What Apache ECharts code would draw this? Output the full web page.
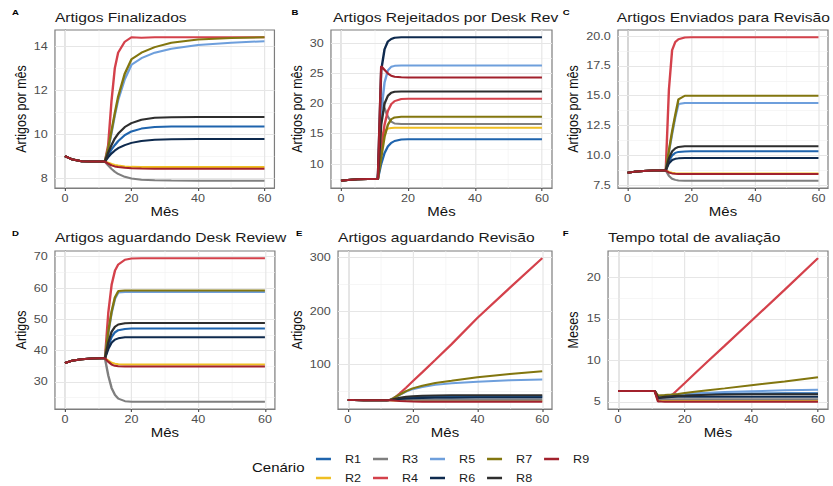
<!DOCTYPE html>
<html>
<head>
<meta charset="utf-8">
<script src="https://cdn.jsdelivr.net/npm/echarts@6/dist/echarts.min.js"></script>
<style>
html,body{margin:0;padding:0;background:#fff;overflow:hidden;}
#wrap{width:833px;height:486px;overflow:hidden;}
#chart{width:694px;height:486px;transform:scale(1.2,1);transform-origin:0 0;}
</style>
</head>
<body>
<div id="wrap"><div id="chart"></div></div>
<script>
// ---------------- DATA ----------------
const months = [0,2,5,8,11,12,13,14,15,16,18,20,23,27,32,40,50,60];
const scenarios = ['R1','R2','R3','R4','R5','R6','R7','R8','R9'];
const colors = ['#1f64ad','#efbf22','#7f7f7f','#d4414b','#6e9fdc','#0e2a4e','#82760f','#2e2e2e','#a2212c'];

const finalizados = [
  [9.0,8.86,8.77,8.75,8.75,8.75,9.05,9.3,9.5,9.68,9.95,10.12,10.25,10.32,10.35,10.35,10.35,10.35],
  [9.0,8.86,8.77,8.75,8.75,8.75,8.7,8.64,8.6,8.57,8.53,8.51,8.5,8.5,8.5,8.5,8.5,8.5],
  [9.0,8.86,8.77,8.75,8.75,8.75,8.58,8.42,8.29,8.19,8.06,7.98,7.93,7.9,7.89,7.88,7.88,7.88],
  [9.0,8.86,8.77,8.75,8.75,8.75,9.5,11.5,13.0,13.7,14.2,14.4,14.38,14.4,14.4,14.4,14.4,14.4],
  [9.0,8.86,8.77,8.75,8.75,8.75,9.3,10.05,10.85,11.55,12.5,13.15,13.45,13.7,13.88,14.05,14.15,14.22],
  [9.0,8.86,8.77,8.75,8.75,8.75,8.95,9.12,9.25,9.36,9.5,9.6,9.69,9.74,9.77,9.78,9.78,9.78],
  [9.0,8.86,8.77,8.75,8.75,8.75,9.35,10.15,10.95,11.7,12.75,13.4,13.7,13.95,14.15,14.3,14.37,14.4],
  [9.0,8.86,8.77,8.75,8.75,8.75,9.15,9.5,9.8,10.02,10.32,10.5,10.65,10.74,10.77,10.78,10.78,10.78],
  [9.0,8.86,8.77,8.75,8.75,8.75,8.66,8.58,8.53,8.5,8.47,8.45,8.44,8.43,8.43,8.43,8.43,8.43]
];
const rejeitados = [
  [7.2,7.35,7.45,7.5,7.5,10.0,11.8,12.9,13.5,13.8,14.05,14.1,14.1,14.1,14.1,14.1,14.1,14.1],
  [7.2,7.35,7.45,7.5,7.5,14.5,15.5,15.85,15.95,16.0,16.0,16.0,16.0,16.0,16.0,16.0,16.0,16.0],
  [7.2,7.35,7.45,7.5,7.5,21.0,19.2,17.8,17.0,16.7,16.6,16.6,16.6,16.6,16.6,16.6,16.6,16.6],
  [7.2,7.35,7.45,7.5,7.5,12.5,16.5,18.8,19.9,20.4,20.75,20.8,20.8,20.8,20.8,20.8,20.8,20.8],
  [7.2,7.35,7.45,7.5,7.5,18.5,23.5,25.5,26.1,26.25,26.3,26.3,26.3,26.3,26.3,26.3,26.3,26.3],
  [7.2,7.35,7.45,7.5,7.5,25.5,29.0,30.3,30.7,30.9,31.0,31.0,31.0,31.0,31.0,31.0,31.0,31.0],
  [7.2,7.35,7.45,7.5,7.5,11.0,14.5,16.5,17.4,17.7,17.8,17.8,17.8,17.8,17.8,17.8,17.8,17.8],
  [7.2,7.35,7.45,7.5,7.5,16.5,20.0,21.3,21.8,21.95,22.0,22.0,22.0,22.0,22.0,22.0,22.0,22.0],
  [7.2,7.35,7.45,7.5,7.5,26.2,25.6,25.0,24.6,24.45,24.35,24.3,24.3,24.3,24.3,24.3,24.3,24.3]
];
const enviados = [
  [8.55,8.63,8.7,8.74,8.75,8.75,9.55,10.0,10.22,10.3,10.34,10.35,10.35,10.35,10.35,10.35,10.35,10.35],
  [8.55,8.63,8.7,8.74,8.75,8.75,8.62,8.55,8.52,8.5,8.5,8.5,8.5,8.5,8.5,8.5,8.5,8.5],
  [8.55,8.63,8.7,8.74,8.75,8.75,8.3,8.05,7.96,7.91,7.89,7.88,7.88,7.88,7.88,7.88,7.88,7.88],
  [8.55,8.63,8.7,8.74,8.75,8.75,15.5,18.8,19.5,19.72,19.87,19.9,19.9,19.9,19.9,19.9,19.9,19.9],
  [8.55,8.63,8.7,8.74,8.75,8.75,10.3,11.8,13.2,14.3,14.4,14.4,14.4,14.4,14.4,14.4,14.4,14.4],
  [8.55,8.63,8.7,8.74,8.75,8.75,9.35,9.62,9.72,9.76,9.78,9.78,9.78,9.78,9.78,9.78,9.78,9.78],
  [8.55,8.63,8.7,8.74,8.75,8.75,10.4,12.0,13.4,14.7,15.0,15.0,15.0,15.0,15.0,15.0,15.0,15.0],
  [8.55,8.63,8.7,8.74,8.75,8.75,9.75,10.35,10.6,10.72,10.78,10.78,10.78,10.78,10.78,10.78,10.78,10.78],
  [8.55,8.63,8.7,8.74,8.75,8.75,8.57,8.5,8.47,8.45,8.45,8.45,8.45,8.45,8.45,8.45,8.45,8.45]
];
const aguardDesk = [
  [36.0,36.7,37.2,37.45,37.5,37.5,41.5,44.3,45.8,46.5,46.9,47.0,47.0,47.0,47.0,47.0,47.0,47.0],
  [36.0,36.7,37.2,37.45,37.5,37.5,36.8,36.1,35.8,35.6,35.5,35.5,35.5,35.5,35.5,35.5,35.5,35.5],
  [36.0,36.7,37.2,37.45,37.5,37.5,32.0,28.0,25.8,24.6,23.8,23.65,23.6,23.6,23.6,23.6,23.6,23.6],
  [36.0,36.7,37.2,37.45,37.5,37.5,52.0,61.0,65.5,67.5,69.0,69.4,69.5,69.5,69.5,69.5,69.5,69.5],
  [36.0,36.7,37.2,37.45,37.5,37.5,45.5,52.0,56.5,58.5,58.7,58.7,58.7,58.7,58.7,58.7,58.7,58.7],
  [36.0,36.7,37.2,37.45,37.5,37.5,40.5,42.5,43.5,43.9,44.2,44.2,44.2,44.2,44.2,44.2,44.2,44.2],
  [36.0,36.7,37.2,37.45,37.5,37.5,46.0,52.5,57.0,59.0,59.2,59.2,59.2,59.2,59.2,59.2,59.2,59.2],
  [36.0,36.7,37.2,37.45,37.5,37.5,42.5,46.0,47.6,48.3,48.7,48.8,48.8,48.8,48.8,48.8,48.8,48.8],
  [36.0,36.7,37.2,37.45,37.5,37.5,36.4,35.5,35.1,35.0,34.9,34.9,34.9,34.9,34.9,34.9,34.9,34.9]
];
const aguardRev = [
  [34.5,34.3,34.1,34.0,34.0,34.0,34.2,35.2,36.3,37.2,38.5,39.3,40.0,40.5,40.7,40.8,40.8,40.8],
  [34.5,34.3,34.1,34.0,34.0,34.0,33.9,33.6,33.4,33.3,33.2,33.1,33.1,33.1,33.1,33.1,33.1,33.1],
  [34.5,34.3,34.1,34.0,34.0,34.0,34.1,34.3,34.5,34.6,34.8,34.9,35.0,35.0,35.0,35.0,35.0,35.0],
  [34.5,34.3,34.1,34.0,34.0,34.0,34.5,37.5,41.5,46.5,57.5,69.0,86.0,109.0,138.0,187.0,243.0,298.0],
  [34.5,34.3,34.1,34.0,34.0,34.0,34.5,37.3,40.5,43.8,50.0,54.5,58.5,62.5,65.5,68.5,71.0,72.5],
  [34.5,34.3,34.1,34.0,34.0,34.0,34.2,34.8,35.5,36.1,37.0,37.6,38.1,38.5,38.7,38.8,38.8,38.8],
  [34.5,34.3,34.1,34.0,34.0,34.0,34.5,37.5,41.0,44.5,51.0,56.0,61.0,66.0,70.0,76.5,82.5,88.0],
  [34.5,34.3,34.1,34.0,34.0,34.0,34.3,35.8,37.3,38.6,40.3,41.3,42.2,42.8,43.1,43.2,43.2,43.2],
  [34.5,34.3,34.1,34.0,34.0,34.0,33.8,33.3,32.8,32.4,31.9,31.6,31.3,31.2,31.1,31.0,31.0,31.0]
];
const tempoTotal = [
  [6.3,6.3,6.3,6.3,6.3,5.55,5.6,5.65,5.7,5.73,5.78,5.82,5.87,5.92,5.96,6.0,6.02,6.03],
  [6.3,6.3,6.3,6.3,6.3,5.15,5.15,5.15,5.15,5.15,5.15,5.15,5.15,5.15,5.15,5.15,5.15,5.15],
  [6.3,6.3,6.3,6.3,6.3,5.3,5.3,5.3,5.3,5.3,5.3,5.3,5.3,5.3,5.3,5.3,5.3,5.3],
  [6.3,6.3,6.3,6.3,6.3,5.55,5.55,5.55,5.6,5.75,6.5,7.25,8.4,9.9,11.75,14.75,18.5,22.3],
  [6.3,6.3,6.3,6.3,6.3,5.65,5.7,5.75,5.8,5.85,5.9,5.95,6.02,6.1,6.18,6.28,6.38,6.45],
  [6.3,6.3,6.3,6.3,6.3,5.45,5.5,5.53,5.55,5.57,5.6,5.6,5.6,5.6,5.6,5.6,5.6,5.6],
  [6.3,6.3,6.3,6.3,6.3,5.75,5.8,5.82,5.85,5.88,5.95,6.05,6.2,6.4,6.62,7.0,7.45,7.95],
  [6.3,6.3,6.3,6.3,6.3,5.5,5.55,5.6,5.65,5.68,5.72,5.75,5.8,5.85,5.88,5.9,5.9,5.9],
  [6.3,6.3,6.3,6.3,6.3,5.05,5.03,5.02,5.0,5.0,5.0,5.0,5.0,5.0,5.0,5.0,5.0,5.0]
];

const xTicks = [0,20,40,60];
const xMinor = [10,30,50];
const yTicksA = [8,10,12,14], yMinorA = [9,11,13];
const yTicksB = [10,15,20,25,30], yMinorB = [7.5,12.5,17.5,22.5,27.5];
const yTicksC = [7.5,10,12.5,15,17.5,20], yMinorC = [8.75,11.25,13.75,16.25,18.75];
const yTicksD = [30,40,50,60,70], yMinorD = [25,35,45,55,65];
const yTicksE = [100,200,300], yMinorE = [50,150,250];
const yTicksF = [5,10,15,20], yMinorF = [7.5,12.5,17.5,22.5];

const panelTitles = ['Artigos Finalizados','Artigos Rejeitados por Desk Rev','Artigos Enviados para Revisão',
                     'Artigos aguardando Desk Review','Artigos aguardando Revisão','Tempo total de avaliação'];
const panelLetters = ['A','B','C','D','E','F'];
const yNames = ['Artigos por mês','Artigos por mês','Artigos por mês','Artigos','Artigos','Meses'];

// ---------------- LAYOUT ----------------
const FONT = '"Liberation Sans", Arial, sans-serif';
const panels = [
  {data: finalizados, yMin: 7.55, yMax: 14.73, ticks: yTicksA, minor: yMinorA, left: 45.8, top: 30, width: 182.9, gap: 21, dec: 0, tx: 45.8, ty: 17, lx: 10, ly: 12},
  {data: rejeitados, yMin: 6.01, yMax: 32.19, ticks: yTicksB, minor: yMinorB, left: 275.8, top: 30, width: 184.2, gap: 21, dec: 0, tx: 277.5, ty: 17, lx: 243, ly: 12},
  {data: enviados, yMin: 7.28, yMax: 20.5, ticks: yTicksC, minor: yMinorC, left: 515, top: 30, width: 175, gap: 31, dec: 1, tx: 514, ty: 17, lx: 469, ly: 12},
  {data: aguardDesk, yMin: 21.3, yMax: 71.8, ticks: yTicksD, minor: yMinorD, left: 45.8, top: 251, width: 183.3, gap: 21, dec: 0, tx: 45.8, ty: 237, lx: 10, ly: 233},
  {data: aguardRev, yMin: 17.65, yMax: 311.35, ticks: yTicksE, minor: yMinorE, left: 281.7, top: 251, width: 178.3, gap: 27, dec: 0, tx: 281.7, ty: 237, lx: 246.7, ly: 233},
  {data: tempoTotal, yMin: 4.135, yMax: 23.165, ticks: yTicksF, minor: yMinorF, left: 506.7, top: 251, width: 183.3, gap: 22.7, dec: 0, tx: 506.7, ty: 237, lx: 469, ly: 233}
];

const grids = [], xAxes = [], yAxes = [], series = [], graphics = [];
const majorLine = {color: '#e6e6e6', width: 1, type: 'solid'};
const minorLine = {color: '#f2f2f2', width: 0.6, type: 'solid'};

panels.forEach((p, i) => {
  grids.push({left: p.left, top: p.top, width: p.width, height: 158, show: true,
              borderColor: '#7d7d7d', borderWidth: 1, backgroundColor: 'transparent', containLabel: false});
  xAxes.push({type: 'value', gridIndex: i, min: -3, max: 63,
    axisLine: {show: true, lineStyle: {color: '#7d7d7d', width: 1}},
    axisTick: {show: true, length: 3, customValues: xTicks, lineStyle: {color: '#555', width: 1}},
    axisLabel: {customValues: xTicks, color: '#4d4d4d', fontSize: 10.5, fontFamily: FONT, margin: 5},
    splitLine: {show: false},
    name: 'Mês', nameLocation: 'middle', nameGap: 17.5,
    nameTextStyle: {fontSize: 12.5, color: '#111', fontFamily: FONT}
  });
  yAxes.push({type: 'value', gridIndex: i, min: p.yMin, max: p.yMax,
    axisLine: {show: true, lineStyle: {color: '#7d7d7d', width: 1}},
    axisTick: {show: true, length: 3, customValues: p.ticks, lineStyle: {color: '#555', width: 1}},
    axisLabel: {customValues: p.ticks, color: '#4d4d4d', fontSize: 10.5, fontFamily: FONT, margin: 6,
                formatter: v => p.dec ? Number(v).toFixed(p.dec) : String(v)},
    splitLine: {show: false},
    name: yNames[i], nameLocation: 'middle', nameGap: p.gap,
    nameTextStyle: {fontSize: 12.5, color: '#111', fontFamily: FONT}
  });
  // grid lines through the axes' own scales
  const ml = [];
  xMinor.forEach(v => ml.push({xAxis: v, lineStyle: minorLine}));
  p.minor.forEach(v => ml.push({yAxis: v, lineStyle: minorLine}));
  xTicks.forEach(v => ml.push({xAxis: v, lineStyle: majorLine}));
  p.ticks.forEach(v => ml.push({yAxis: v, lineStyle: majorLine}));
  series.push({type: 'line', name: '_grid' + i, xAxisIndex: i, yAxisIndex: i, data: [], silent: true,
    markLine: {silent: true, z: 1, symbol: ['none','none'], label: {show: false}, animation: false,
               emphasis: {disabled: true}, data: ml}});
  p.data.forEach((row, k) => {
    series.push({type: 'line', name: scenarios[k], xAxisIndex: i, yAxisIndex: i, z: 2 + k,
      data: months.map((m, j) => [m, row[j]]),
      showSymbol: false, symbol: 'none', color: colors[k],
      lineStyle: {color: colors[k], width: 2}, itemStyle: {color: colors[k]},
      emphasis: {disabled: true}, silent: true, clip: true});
  });
  graphics.push({type: 'text', x: p.tx, y: p.ty, silent: true,
    style: {text: panelTitles[i], font: '13px ' + FONT, fill: '#1a1a1a',
            textAlign: 'left', align: 'left', textVerticalAlign: 'middle', verticalAlign: 'middle'}});
  graphics.push({type: 'text', x: p.lx, y: p.ly, silent: true,
    style: {text: panelLetters[i], font: 'bold 8px ' + FONT, fill: '#000',
            textAlign: 'left', align: 'left', textVerticalAlign: 'middle', verticalAlign: 'middle'}});
});

graphics.push({type: 'text', x: 210, y: 468, silent: true,
  style: {text: 'Cenário', font: '12.5px ' + FONT, fill: '#111',
          textAlign: 'left', align: 'left', textVerticalAlign: 'middle', verticalAlign: 'middle'}});

const legendBase = {orient: 'horizontal', left: 263.3, padding: 0, itemWidth: 12.5, itemHeight: 2.5,
  itemGap: 9.9, icon: 'rect', selectedMode: false,
  textStyle: {fontSize: 10.5, color: '#1a1a1a', fontFamily: FONT, padding: [0,0,0,6.7], lineHeight: 14}};

const option = {
  animation: false,
  backgroundColor: '#fff',
  grid: grids, xAxis: xAxes, yAxis: yAxes, series: series,
  legend: [
    Object.assign({}, legendBase, {top: 452, data: ['R1','R3','R5','R7','R9']}),
    Object.assign({}, legendBase, {top: 471, data: ['R2','R4','R6','R8']})
  ],
  graphic: graphics
};

const chart = echarts.init(document.getElementById('chart'), null, {renderer: 'svg'});
chart.setOption(option);
</script>
</body>
</html>
